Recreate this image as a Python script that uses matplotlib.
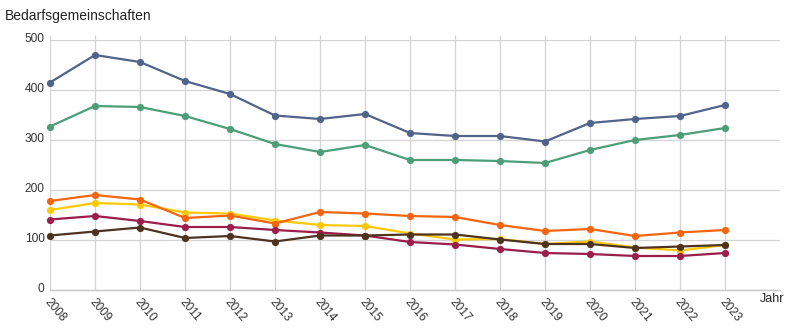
import matplotlib
matplotlib.use("Agg")
import matplotlib.pyplot as plt
import matplotlib.transforms as mtransforms

plt.rcParams["font.family"] = ["Liberation Sans", "DejaVu Sans"]

years = list(range(2008, 2024))

# Bedarfsgemeinschaften je Reihe
blue = [415, 470, 456, 418, 392, 349, 342, 352, 314, 308, 308, 297, 334, 342, 348, 370]
green = [327, 368, 366, 348, 322, 292, 276, 290, 260, 260, 258, 254, 280, 300, 310, 324]
yellow = [160, 174, 171, 155, 153, 139, 130, 128, 113, 101, 102, 92, 97, 85, 79, 90]
orange = [178, 190, 181, 144, 149, 133, 156, 153, 148, 146, 130, 118, 122, 108, 115, 120]
crimson = [141, 148, 138, 126, 126, 120, 115, 109, 96, 91, 82, 74, 72, 68, 68, 74]
brown = [109, 117, 125, 104, 108, 97, 109, 109, 111, 111, 101, 92, 92, 84, 87, 90]

y_ticks = [0, 100, 200, 300, 400, 500]

series = [
    (blue, "#50648a"),
    (green, "#4c9e78"),
    (yellow, "#ffc805"),
    (orange, "#f5650f"),
    (crimson, "#9a1d4a"),
    (brown, "#4d3320"),
]

GRID = "#d4d4d4"
TEXT = "#333333"

fig = plt.figure(figsize=(7.95, 3.31), dpi=100)
ax = fig.add_axes([50 / 795, 1 - 290 / 331, 730 / 795, 250 / 331])

for vals, col in series:
    ax.plot(years, vals, color=col, lw=1.6, marker="o", ms=5.2,
            markeredgewidth=0, solid_capstyle="round", clip_on=False)

ax.set_xlim(2008, 2008 + 730 / 45)
ax.set_ylim(0, 500)
ax.set_xticks(years)
ax.set_yticks(y_ticks)
ax.grid(True, color=GRID, lw=0.9)
ax.set_axisbelow(True)
for s in ("top", "right", "left"):
    ax.spines[s].set_visible(False)
ax.spines["bottom"].set_color("#c8c8c8")
ax.spines["bottom"].set_linewidth(1.0)

ax.tick_params(axis="y", length=0, pad=4, labelsize=8.6, labelcolor=TEXT)
ax.tick_params(axis="x", top=True, bottom=False, length=3.6, width=0.9,
               color=GRID, labelbottom=True, labeltop=False, pad=2,
               labelsize=8.6, labelcolor=TEXT)
ax.set_xticklabels([str(y) for y in years], rotation=-50, ha="left",
                   va="top", rotation_mode="anchor")
offset = mtransforms.ScaledTranslation(1 / 72, 1 / 72, fig.dpi_scale_trans)
for lbl in ax.get_xticklabels():
    lbl.set_transform(lbl.get_transform() + offset)
yoff = mtransforms.ScaledTranslation(0, 2 / 72, fig.dpi_scale_trans)
for lbl in ax.get_yticklabels():
    lbl.set_transform(lbl.get_transform() + yoff)

fig.text(5 / 795, 1 - 16 / 331, "Bedarfsgemeinschaften", fontsize=10,
         color="#222222", va="center", ha="left")
fig.text(760 / 795, 1 - 299 / 331, "Jahr", fontsize=9,
         color="#222222", va="center", ha="left")

fig.savefig("out.png", dpi=100)
